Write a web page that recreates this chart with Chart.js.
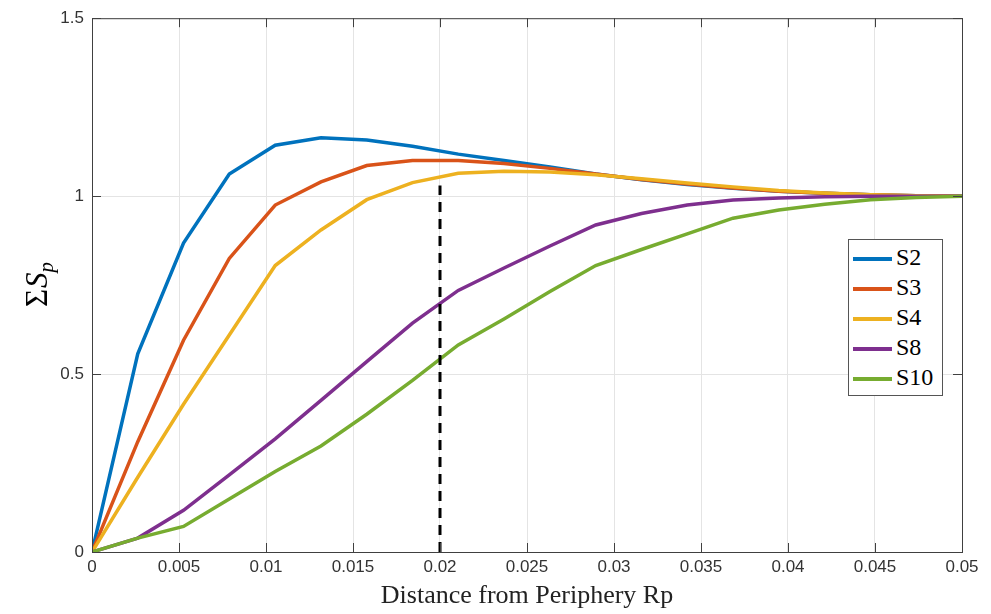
<!DOCTYPE html>
<html>
<head>
<meta charset="utf-8">
<script src="https://cdn.jsdelivr.net/npm/chart.js@4.4.0/dist/chart.umd.min.js"></script>
<style>
  body { margin: 0; background: #fff; }
  #wrap { position: relative; width: 991px; height: 614px; }
  #legend {
    position: absolute; left: 848px; top: 239px; width: 89px; height: 153px;
    border: 1px solid #555; background: #fff; padding: 2px 0 0 4px; box-sizing: content-box;
  }
  .row { height: 30px; line-height: 30px; white-space: nowrap;
    font-family: "Liberation Serif", serif; font-size: 24px; color: #000; }
  .sw { display: inline-block; width: 39px; height: 4px; margin-right: 4px; vertical-align: middle; }
</style>
</head>
<body>
<div id="wrap">
  <canvas id="c" width="991" height="614"></canvas>
  <div id="legend"></div>
</div>
<script>
// x positions of the samples (distance from periphery)
const xs = [0, 0.00263, 0.00526, 0.00789, 0.01053, 0.01316, 0.01579, 0.01842, 0.02105, 0.02368,
  0.02632, 0.02895, 0.03158, 0.03421, 0.03684, 0.03947, 0.04211, 0.04474, 0.04737, 0.05];

const s2 = [0, 0.557, 0.868, 1.062, 1.143, 1.164, 1.158, 1.140, 1.118, 1.100,
  1.082, 1.062, 1.046, 1.033, 1.022, 1.014, 1.008, 1.004, 1.001, 1.000];
const s3 = [0, 0.31, 0.595, 0.825, 0.975, 1.040, 1.086, 1.100, 1.100, 1.092,
  1.078, 1.062, 1.047, 1.034, 1.023, 1.014, 1.008, 1.004, 1.001, 1.000];
const s4 = [0, 0.21, 0.415, 0.61, 0.805, 0.905, 0.990, 1.038, 1.064, 1.070,
  1.068, 1.060, 1.049, 1.037, 1.026, 1.016, 1.009, 1.004, 1.001, 1.000];
const s8 = [0, 0.039, 0.117, 0.217, 0.318, 0.426, 0.535, 0.643, 0.735, 0.798,
  0.860, 0.919, 0.951, 0.975, 0.989, 0.995, 0.998, 1.000, 1.000, 1.000];
const s10 = [0, 0.039, 0.072, 0.149, 0.226, 0.298, 0.387, 0.482, 0.582, 0.655,
  0.732, 0.805, 0.850, 0.894, 0.938, 0.961, 0.977, 0.990, 0.996, 1.000];

// vertical dashed marker
const dashX = [0.02, 0.02];
const dashY = [0, 1.03];

const seriesLabels = ['S2', 'S3', 'S4', 'S8', 'S10'];
const seriesColors = ['#0072BD', '#D95319', '#EDB120', '#7E2F8E', '#77AC30'];
const seriesValues = [s2, s3, s4, s8, s10];

const xTickLabels = ['0', '0.005', '0.01', '0.015', '0.02', '0.025', '0.03', '0.035', '0.04', '0.045', '0.05'];
const yTickLabels = ['0', '0.5', '1', '1.5'];

const pts = (xArr, yArr) => xArr.map((x, i) => ({ x, y: yArr[i] }));

const datasets = seriesValues.map((vals, i) => ({
  label: seriesLabels[i],
  data: pts(xs, vals),
  borderColor: seriesColors[i],
  borderWidth: 3.5,
  pointRadius: 0,
  tension: 0,
  order: seriesValues.length - i
}));
datasets.push({
  label: 'marker',
  data: pts(dashX, dashY),
  borderColor: '#000',
  borderWidth: 3,
  borderDash: [10, 7],
  pointRadius: 0,
  order: 0
});

// box + inward ticks, MATLAB style
const axesBox = {
  id: 'axesBox',
  afterDatasetsDraw(chart) {
    const { ctx, chartArea: a, scales: { x, y } } = chart;
    ctx.save();
    ctx.strokeStyle = '#404040';
    ctx.lineWidth = 1;
    ctx.strokeRect(a.left + 0.5, a.top + 0.5, a.right - a.left, a.bottom - a.top);
    ctx.beginPath();
    x.ticks.forEach(t => {
      const px = Math.round(x.getPixelForValue(t.value)) + 0.5;
      ctx.moveTo(px, a.bottom); ctx.lineTo(px, a.bottom - 9);
      ctx.moveTo(px, a.top); ctx.lineTo(px, a.top + 9);
    });
    y.ticks.forEach(t => {
      const py = Math.round(y.getPixelForValue(t.value)) + 0.5;
      ctx.moveTo(a.left, py); ctx.lineTo(a.left + 9, py);
      ctx.moveTo(a.right, py); ctx.lineTo(a.right - 9, py);
    });
    ctx.stroke();
    ctx.restore();
  },
  afterDraw(chart) {
    // y axis title: ΣS_p
    const { ctx, chartArea: a } = chart;
    ctx.save();
    ctx.translate(47, (a.top + a.bottom) / 2);
    ctx.rotate(-Math.PI / 2);
    ctx.fillStyle = '#000';
    ctx.textBaseline = 'alphabetic';
    const f1 = '31px "Liberation Serif", serif';
    const f2 = 'italic 31px "Liberation Serif", serif';
    const f3 = 'italic 21px "Liberation Serif", serif';
    ctx.font = f1; const w1 = ctx.measureText('Σ').width;
    ctx.font = f2; const w2 = ctx.measureText('S').width;
    ctx.font = f3; const w3 = ctx.measureText('p').width;
    let cx = -(w1 + w2 + w3) / 2;
    ctx.font = f1; ctx.fillText('Σ', cx, 0); cx += w1 + 1;
    ctx.font = f2; ctx.fillText('S', cx, 0); cx += w2;
    ctx.font = f3; ctx.fillText('p', cx, 6);
    ctx.restore();
  }
};

const tickFont = { family: '"Liberation Sans", Arial, sans-serif', size: 17 };

new Chart(document.getElementById('c'), {
  type: 'line',
  data: { datasets },
  options: {
    responsive: false,
    animation: false,
    layout: { padding: { left: 0, right: 29, top: 14, bottom: 0 } },
    plugins: { legend: { display: false }, tooltip: { enabled: false } },
    scales: {
      x: {
        type: 'linear', min: 0, max: 0.05,
        ticks: { stepSize: 0.005, padding: 5, color: '#333', font: tickFont, maxRotation: 0,
          callback: (v, i) => xTickLabels[i] },
        grid: { color: '#e4e4e4', drawTicks: false },
        border: { color: '#404040' },
        title: { display: true, text: 'Distance from Periphery Rp', color: '#222',
          font: { family: '"Liberation Serif", serif', size: 26 }, padding: { top: 0, bottom: 2 } },
        afterFit: (s) => { s.height = 62; }
      },
      y: {
        type: 'linear', min: 0, max: 1.5,
        ticks: { stepSize: 0.5, padding: 8, color: '#333', font: tickFont,
          callback: (v, i) => yTickLabels[i] },
        grid: { color: '#e4e4e4', drawTicks: false },
        border: { color: '#404040' },
        afterFit: (s) => { s.width = 92; }
      }
    }
  },
  plugins: [axesBox]
});

// html legend
const lg = document.getElementById('legend');
seriesLabels.forEach((lab, i) => {
  const row = document.createElement('div');
  row.className = 'row';
  const sw = document.createElement('span');
  sw.className = 'sw';
  sw.style.background = seriesColors[i];
  row.appendChild(sw);
  row.appendChild(document.createTextNode(lab));
  lg.appendChild(row);
});
</script>
</body>
</html>
